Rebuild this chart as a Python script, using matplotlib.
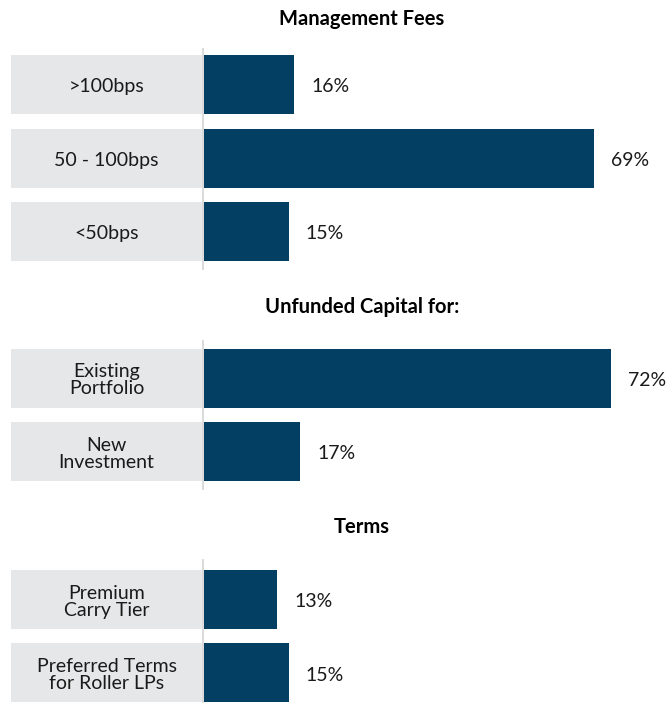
import matplotlib
matplotlib.use('Agg')
import matplotlib.pyplot as plt

plt.rcParams['font.family'] = ['Lato', 'DejaVu Sans']

# data
titles = ['Management Fees', 'Unfunded Capital for:', 'Terms']
cats1 = ['>100bps', '50 - 100bps', '<50bps']
vals1 = [16, 69, 15]
cats2 = ['Existing\nPortfolio', 'New\nInvestment']
vals2 = [72, 17]
cats3 = ['Premium\nCarry Tier', 'Preferred Terms\nfor Roller LPs']
vals3 = [13, 15]

W, H = 670, 703
bar_col = '#023f63'
box_col = '#e6e7e8'
px_per = 5.65          # pixels per percent
x0 = 204               # pixel of zero line
xmin = -x0 / px_per
xmax = (W - x0) / px_per
box_left = (11 - x0) / px_per
box_w = -0.35 - box_left

fig = plt.figure(figsize=(W / 100, H / 100), dpi=100)

# (top px, bottom px, ylim top, ylim bottom, title y px)
panels = [
    (48, 270, -0.5, 2.52, 19, cats1, vals1),
    (340, 490, -0.52, 1.52, 307, cats2, vals2),
    (559, 703, -0.55, 1.41, 527, cats3, vals3),
]

for (top, bot, yt, yb, ty, cats, vals), title in zip(panels, titles):
    ax = fig.add_axes([0, 1 - bot / H, 1, (bot - top) / H])
    ax.set_xlim(xmin, xmax)
    ax.set_ylim(yb, yt)
    ax.axis('off')
    y = list(range(len(cats)))
    ax.barh(y, [box_w] * len(cats), left=box_left, height=0.8, color=box_col)
    ax.barh(y, vals, left=0, height=0.8, color=bar_col)
    ax.axvline(-0.15, color='#d4d4d4', lw=1.2)
    for yi, c, v in zip(y, cats, vals):
        ax.text(box_left + box_w / 2, yi + 0.03, c, ha='center', va='center',
                fontsize=14, color='#1a1a1a', linespacing=1.0)
        ax.text(v + 3, yi + 0.03, f'{v}%', ha='left', va='center', fontsize=14,
                color='#1a1a1a')
    fig.text(362 / W, 1 - ty / H, title, ha='center', va='center',
             fontsize=14.5, fontweight='bold', color='black')

fig.savefig('out.png', dpi=100)
